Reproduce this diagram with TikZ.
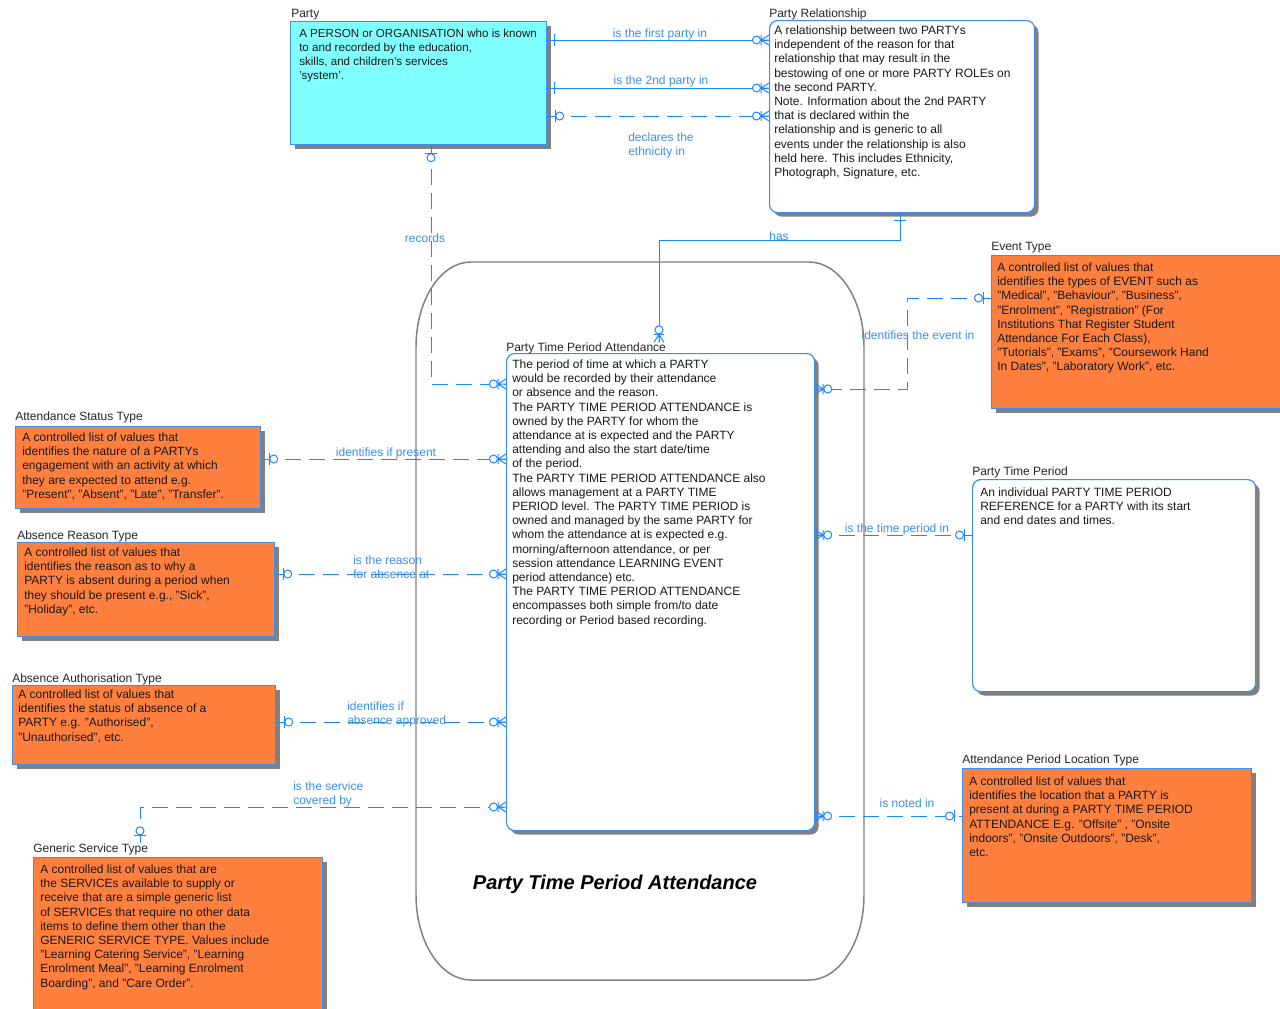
\documentclass[tikz,border=0pt]{standalone}
\usepackage{fontspec}
\setmainfont{Liberation Sans}
\usetikzlibrary{shadows}
\definecolor{lblue}{HTML}{1E86FF}
\definecolor{tblue}{HTML}{3C8EEA}
\definecolor{bord}{HTML}{3A8FEF}
\definecolor{cyanf}{HTML}{80FFFF}
\definecolor{orangef}{HTML}{FF7F3F}
\newcommand\entbox[6]{\node[#1, minimum width={(#5-#3)*0.75pt}, minimum height={(#6-#4)*0.75pt}] (#2) at (#3,#4) {};}
\begin{document}
\begin{tikzpicture}[x=0.75pt,y=-0.75pt,
  ent/.style={draw=bord, line width=0.9pt, anchor=north west, inner sep=0pt,
    drop shadow={shadow xshift=3pt, shadow yshift=-3pt, fill=black!50, opacity=1}},
  cyanent/.style={ent, fill=cyanf},
  orent/.style={ent, fill=orangef},
  rent/.style={ent, fill=white, rounded corners=6pt},
  etxt/.style={anchor=north west, inner sep=0pt, align=left, font=\fontsize{9}{10.65}\selectfont, text=black!90},
  ename/.style={anchor=base west, inner sep=0pt, font=\fontsize{9}{10.65}\selectfont, text=black!85},
  rel/.style={draw=lblue, line width=0.75pt},
  reld/.style={rel, dash pattern=on 12pt off 6pt},
  rlab/.style={anchor=base, inner sep=0pt, font=\fontsize{9}{10.65}\selectfont, text=tblue},
  rlabm/.style={anchor=north west, align=left, inner sep=0pt, font=\fontsize{9}{10.65}\selectfont, text=tblue},
  mkline/.style={draw=lblue, line width=0.75pt, solid},
  mkmany/.pic={
    \draw[mkline] (-8,0) -- (0,-5) (-8,0) -- (0,0) (-8,0) -- (0,5) (-8,-5) -- (-8,5);
    \draw[mkline, fill=white] (-12.5,0) circle[radius=4];
  },
  mkone/.pic={
    \draw[mkline] (-7.5,-6) -- (-7.5,6);
  },
  mkzeroone/.pic={
    \draw[mkline] (-8,-6) -- (-8,6);
    \draw[mkline, fill=white] (-12.5,0) circle[radius=4];
  }
]
\useasboundingbox (0,0) rectangle (1280,1008);
\clip (0,0) rectangle (1280,1008);
\fill[white] (0,0) rectangle (1280,1008);

% subject area
\draw[black!50, line width=1.1pt] (471,262) -- (809,262) .. controls (839.4,262) and (864,300) .. (864,347) -- (864,895) .. controls (864,942) and (839.4,980) .. (809,980) -- (471,980) .. controls (440.6,980) and (416,942) .. (416,895) -- (416,347) .. controls (416,300) and (440.6,262) .. (471,262) -- cycle;
\node[anchor=base, inner sep=0pt, font=\fontsize{15}{18}\selectfont\bfseries\itshape] (areatitle) at (615,889) {Party Time Period Attendance};

% entities
\entbox{cyanent}{party}{290}{21}{546}{144}
\entbox{rent}{pr}{769}{20}{1034}{212}
\entbox{orent}{et}{991}{255}{1300}{408}
\entbox{orent}{ast}{15}{426}{260}{508}
\entbox{orent}{art}{17}{542}{274}{636}
\entbox{orent}{aat}{12}{685}{275}{764}
\entbox{orent}{gst}{33}{857}{322}{1030}
\entbox{rent}{ptpa}{506}{353}{814}{830}
\entbox{rent}{ptp}{972}{479}{1255}{691}
\entbox{orent}{aplt}{962}{768}{1251}{902}

% entity names
\node[ename] (partylbl) at (291,17.3) {Party};
\node[ename] (prlbl) at (769,17.3) {Party Relationship};
\node[ename] (etlbl) at (991,250.3) {Event Type};
\node[ename] (astlbl) at (15,420.3) {Attendance Status Type};
\node[ename] (artlbl) at (17,539.3) {Absence Reason Type};
\node[ename] (aatlbl) at (12,682.3) {Absence Authorisation Type};
\node[ename] (gstlbl) at (33,852.3) {Generic Service Type};
\node[ename] (ptpalbl) at (506,351.3) {Party Time Period Attendance};
\node[ename] (ptplbl) at (972,475.3) {Party Time Period};
\node[ename] (apltlbl) at (962,763.3) {Attendance Period Location Type};

% entity texts
\node[etxt, font=\fontsize{8.7}{10.65}\selectfont] (partytxt) at (299,28.5) {A PERSON or ORGANISATION who is known\\to and recorded by  the education,\\skills,  and children's services\\'system'.};
\node[etxt] (prtxt) at (774,25.5) {A relationship between two PARTYs\\independent of the reason for that\\relationship that may result in the\\bestowing of one or more PARTY ROLEs on\\the second PARTY.\\Note. Information about the 2nd PARTY\\that is declared within the\\relationship and is generic to all\\events under the relationship is also\\held here. This includes Ethnicity,\\Photograph, Signature, etc.};
\node[etxt] (ettxt) at (997,262.5) {A controlled list of values that\\identifies the types of EVENT such as\\"Medical", "Behaviour", "Business",\\"Enrolment", "Registration" (For\\Institutions That Register Student\\Attendance For Each Class),\\"Tutorials", "Exams", "Coursework Hand\\In Dates", "Laboratory Work", etc.};
\node[etxt] (asttxt) at (22,432.5) {A controlled list of values that\\identifies the nature of a PARTYs\\engagement with an activity at which\\they are expected to attend e.g.\\"Present", "Absent", "Late", "Transfer".};
\node[etxt] (arttxt) at (24,547.5) {A controlled list of values that\\identifies  the reason as to why a\\PARTY is absent during a period when\\they should be present e.g., "Sick",\\"Holiday", etc.};
\node[etxt] (aattxt) at (18,689.5) {A controlled list of values that\\identifies the status of absence of a\\PARTY e.g. "Authorised",\\"Unauthorised", etc.};
\node[etxt] (gsttxt) at (40,864.5) {A controlled list of values that are\\the SERVICEs available to supply or\\receive that are a simple generic list\\of SERVICEs that require no other data\\items to define them other than the\\GENERIC SERVICE TYPE. Values include\\"Learning Catering Service", "Learning\\Enrolment Meal", "Learning Enrolment\\Boarding", and "Care Order".};
\node[etxt] (ptpatxt) at (512,359.5) {The period of time at which a PARTY\\would be recorded by their attendance\\or absence and the reason.\\The PARTY TIME PERIOD ATTENDANCE is\\owned by the PARTY for whom the\\attendance at is expected and the PARTY\\attending and also the start date/time\\of the period.\\The PARTY TIME PERIOD ATTENDANCE also\\allows management at a PARTY TIME\\PERIOD level. The PARTY TIME PERIOD is\\owned and managed by the same PARTY for\\whom the attendance at is expected e.g.\\morning/afternoon attendance, or per\\session attendance LEARNING EVENT\\period attendance) etc.\\The PARTY TIME PERIOD ATTENDANCE\\encompasses both simple from/to date\\recording or Period based recording.};
\node[etxt] (ptptxt) at (980,487.5) {An individual PARTY TIME PERIOD\\REFERENCE for a PARTY with its start\\and end dates and times.};
\node[etxt] (aplttxt) at (969,776.5) {A controlled list of values that\\identifies the location that a PARTY is\\present at during a PARTY TIME PERIOD\\ATTENDANCE  E.g. "Offsite" , "Onsite\\indoors", "Onsite Outdoors", "Desk",\\etc.};

% connectors
\draw[rel] (party.east |- 0,40) -- (pr.west |- 0,40);
\draw[rel] (party.east |- 0,88) -- (pr.west |- 0,88);
\draw[reld] (party.east |- 0,116) -- (pr.west |- 0,116);
\draw[reld] (party.south -| 431,0) -- (431,384) -- (ptpa.west |- 0,384);
\draw[rel] (pr.south -| 900,0) -- (900,240) -- (659,240) -- (ptpalbl.north -| 659,0);
\draw[reld] (et.west |- 0,298) -- (907,298) -- (907,389) -- (ptpa.east |- 0,389);
\draw[reld] (ast.east |- 0,459) -- (ptpa.west |- 0,459);
\draw[reld] (art.east |- 0,574) -- (ptpa.west |- 0,574);
\draw[reld] (aat.east |- 0,722) -- (ptpa.west |- 0,722);
\draw[reld] (gstlbl.north -| 140,0) -- (140,807) -- (ptpa.west |- 0,807);
\draw[reld] (ptpa.east |- 0,535) -- (ptp.west |- 0,535);
\draw[reld] (ptpa.east |- 0,816) -- (aplt.west |- 0,816);

% end markers
\pic[rotate=180] at (party.east |- 0,40) {mkone};
\pic at (pr.west |- 0,40) {mkmany};
\pic[rotate=180] at (party.east |- 0,88) {mkone};
\pic at (pr.west |- 0,88) {mkmany};
\pic[rotate=180] at (party.east |- 0,116) {mkzeroone};
\pic at (pr.west |- 0,116) {mkmany};
\pic[rotate=90] at (party.south -| 431,0) {mkzeroone};
\pic at (ptpa.west |- 0,384) {mkmany};
\pic[rotate=90] at (pr.south -| 900,0) {mkone};
\pic[rotate=-90] at (ptpalbl.north -| 659,0) {mkmany};
\pic at (et.west |- 0,298) {mkzeroone};
\pic[rotate=180] at (ptpa.east |- 0,389) {mkmany};
\pic[rotate=180] at (ast.east |- 0,459) {mkzeroone};
\pic at (ptpa.west |- 0,459) {mkmany};
\pic[rotate=180] at (art.east |- 0,574) {mkzeroone};
\pic at (ptpa.west |- 0,574) {mkmany};
\pic[rotate=180] at (aat.east |- 0,722) {mkzeroone};
\pic at (ptpa.west |- 0,722) {mkmany};
\pic[rotate=-90] at (gstlbl.north -| 140,0) {mkzeroone};
\pic at (ptpa.west |- 0,807) {mkmany};
\pic[rotate=180] at (ptpa.east |- 0,535) {mkmany};
\pic at (ptp.west |- 0,535) {mkzeroone};
\pic[rotate=180] at (ptpa.east |- 0,816) {mkmany};
\pic at (aplt.west |- 0,816) {mkzeroone};

% relationship labels
\node[rlab] (l1) at (660,37) {is the first party in};
\node[rlab] (l2) at (661,84) {is the 2nd party in};
\node[rlabm] (l3) at (628,132.5) {declares the\\ethnicity in};
\node[rlab] (l4) at (425,242) {records};
\node[rlab] (l5) at (779,240) {has};
\node[rlab] (l6) at (918,339) {identifies the event in};
\node[rlab] (l7) at (386,456) {identifies if present};
\node[rlabm] (l8) at (353,555.5) {is the reason\\for absence at};
\node[rlabm] (l9) at (347,701.5) {identifies if\\absence approved};
\node[rlabm] (l10) at (293,781.5) {is the service\\covered by};
\node[rlab] (l11) at (897,532) {is the time period in};
\node[rlab] (l12) at (907,807) {is noted in};
\end{tikzpicture}
\end{document}
